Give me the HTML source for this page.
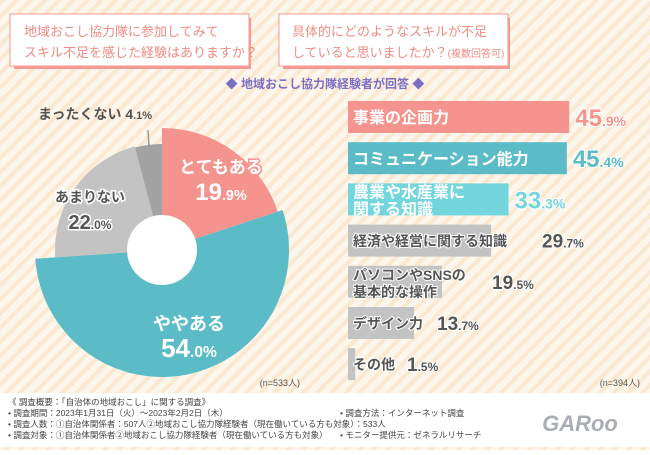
<!DOCTYPE html>
<html><head><meta charset="utf-8"><style>
body{margin:0;width:650px;height:450px;overflow:hidden;font-family:"Liberation Sans","Noto Sans CJK JP",sans-serif;}
svg text{font-family:"Liberation Sans","Noto Sans CJK JP",sans-serif;}
</style></head><body>
<svg id="c" width="650" height="450" viewBox="0 0 650 450" xmlns="http://www.w3.org/2000/svg">
<defs>
<pattern id="st" width="10" height="10" patternUnits="userSpaceOnUse" patternTransform="rotate(45)">
<rect width="10" height="10" fill="#fdf6ec"/><rect width="4" height="10" fill="#fbe8d0"/>
</pattern>
</defs>
<rect width="650" height="450" fill="url(#st)"/>
<g>
<rect x="14" y="18" width="237" height="51" fill="#f39a93"/>
<rect x="10" y="14" width="239" height="52" fill="#fff" stroke="#f39a93" stroke-width="1"/>
<text x="24" y="36" font-size="13" fill="#f08b84">地域おこし協力隊に参加してみて</text>
<text x="24" y="57" font-size="13" fill="#f08b84">スキル不足を感じた経験はありますか？</text>
</g>
<g>
<rect x="283" y="18" width="227" height="51" fill="#f39a93"/>
<rect x="279" y="14" width="229" height="52" fill="#fff" stroke="#f39a93" stroke-width="1"/>
<text x="292" y="36" font-size="13" fill="#f08b84">具体的にどのようなスキルが不足</text>
<text x="292" y="57" font-size="13" fill="#f08b84">していると思いましたか？<tspan font-size="10">(複数回答可)</tspan></text>
</g>
<text x="325" y="88" font-size="12" fill="#7b6fc4" text-anchor="middle" font-weight="bold">◆ 地域おこし協力隊経験者が回答 ◆</text>
<g id="pie"></g>
<g id="bars"></g>
<text x="300" y="386" font-size="9" fill="#555" text-anchor="end">(n=533人)</text>
<text x="640" y="386" font-size="9" fill="#555" text-anchor="end">(n=394人)</text>
<rect x="0" y="393" width="650" height="54" fill="#fff"/>
<g font-size="8.5" fill="#444">
<text x="8" y="405">《 調査概要：「自治体の地域おこし」に関する調査》</text>
<text x="8" y="416">• 調査期間：2023年1月31日（火）～2023年2月2日（木）</text>
<text x="8" y="427">• 調査人数：①自治体関係者：507人②地域おこし協力隊経験者（現在働いている方も対象）：533人</text>
<text x="8" y="438">• 調査対象：①自治体関係者②地域おこし協力隊経験者（現在働いている方も対象）</text>
<text x="340" y="416">• 調査方法：インターネット調査</text>
<text x="340" y="438">• モニター提供元：ゼネラルリサーチ</text>
</g>
<text x="580" y="431" font-size="22" font-weight="bold" fill="#a9adb3" text-anchor="middle" font-style="italic">GARoo</text>
</svg>
<script>
const pieLabels=["とてもある","ややある","あまりない","まったくない"];
const pieValues=[19.9,54.0,22.0,4.1];
const barLabels=["事業の企画力","コミュニケーション能力","農業や水産業に|関する知識","経済や経営に関する知識","パソコンやSNSの|基本的な操作","デザイン力","その他"];
const barValues=[45.9,45.4,33.3,29.7,19.5,13.7,1.5];
const NS="http://www.w3.org/2000/svg";
function mk(t,a,p){const e=document.createElementNS(NS,t);for(const k in a)e.setAttribute(k,a[k]);p.appendChild(e);return e;}
const pie=document.getElementById('pie');
const cx=162,cy=250,hole=35;
const pc=["#f5938e","#5bbcc8","#c3c3c3","#a3a3a3"];
const pr=[122,127,107,106];
let acc=0;const tot=pieValues.reduce((a,b)=>a+b,0);
function pt(r,a){return [cx+r*Math.sin(a),cy-r*Math.cos(a)];}
pieValues.forEach((v,i)=>{
 const a0=acc/tot*2*Math.PI;acc+=v;const a1=acc/tot*2*Math.PI;
 const r=pr[i];const [x0,y0]=pt(r,a0),[x1,y1]=pt(r,a1);
 const lg=(a1-a0)>Math.PI?1:0;
 const p=mk('path',{d:`M${cx},${cy}L${x0},${y0}A${r},${r} 0 ${lg} 1 ${x1},${y1}Z`,fill:pc[i]},pie);
 
 
});
mk('circle',{cx:cx,cy:cy,r:hole,fill:'#fff'},pie);
function lab(x,y,t,v,fill,stroke,fs,vs){
 const g=mk('g',{},pie);
 
 
 mk('text',{x:x,y:y,'font-size':fs,'font-weight':'bold',fill:fill,stroke:stroke,'stroke-width':stroke=='none'?0:3,'paint-order':'stroke','text-anchor':'middle'},g).textContent=t;
 const s=v.toFixed(1).split('.');
 const tx=mk('text',{x:x,y:y+27,'font-size':vs,'font-weight':'bold',fill:fill,stroke:stroke,'stroke-width':stroke=='none'?0:3,'paint-order':'stroke','text-anchor':'middle'},g);
 tx.innerHTML=`${s[0]}<tspan font-size="${vs*0.6}">.${s[1]}%</tspan>`;
}
lab(221,173,pieLabels[0],pieValues[0],'#fff','#f5938e',17,24);
lab(189,330,pieLabels[1],pieValues[1],'#fff','#5bbcc8',18,26);
lab(90,202,pieLabels[2],pieValues[2],'#555','#fff',14,20);
mk('line',{x1:148,y1:130,x2:149,y2:147,stroke:'#999','stroke-width':1.5},pie);
const mt=mk('text',{x:38,y:119,'font-size':14,'font-weight':'bold',fill:'#555'},pie);
mt.innerHTML=`${pieLabels[3]} ${String(pieValues[3]).split('.')[0]}<tspan font-size="11">.${String(pieValues[3]).split('.')[1]}%</tspan>`;
const bars=document.getElementById('bars');
const bx=348,sc=4.82,bh=32,gap=41.2,by=101;
const bc=["#f5938e","#5bbcc8","#72d6dc","#c3c3c3","#c3c3c3","#c3c3c3","#c3c3c3"];
const tc=["#fff","#fff","#fff","#555","#555","#555","#555"];
const vc=["#f5938e","#5bbcc8","#72d6dc","#555","#555","#555","#555"];
const lw=[0,0,0,188,138,83,53];
barValues.forEach((v,i)=>{
 const y=by+i*gap,w=v*sc;
 const r=mk('rect',{x:bx,y:y,width:w,height:bh,fill:bc[i]},bars);
 
 
 const lines=barLabels[i].split('|');
 const fs=i<3?16:14;
 lines.forEach((l,j)=>{
  const t=mk('text',{x:bx+5,y:lines.length>1?y+14+j*17:y+bh/2+fs*0.38,'font-size':fs,'font-weight':'bold',fill:tc[i],stroke:i<3?'none':'#fff','stroke-width':2,'paint-order':'stroke'},bars);
  t.textContent=l;
  
  
 });
 const vx=Math.max(bx+w,bx+lw[i])+6;
 const s=v.toFixed(1).split('.');
 const vt=mk('text',{x:vx,y:y+bh/2+(i<3?9:7),'font-size':i<3?24:19,'font-weight':'bold',fill:vc[i],stroke:'#fff','stroke-width':2,'paint-order':'stroke'},bars);
 vt.innerHTML=`${s[0]}<tspan font-size="${i<3?14:12}">.${s[1]}%</tspan>`;
 
 
});
</script>
</body></html>
